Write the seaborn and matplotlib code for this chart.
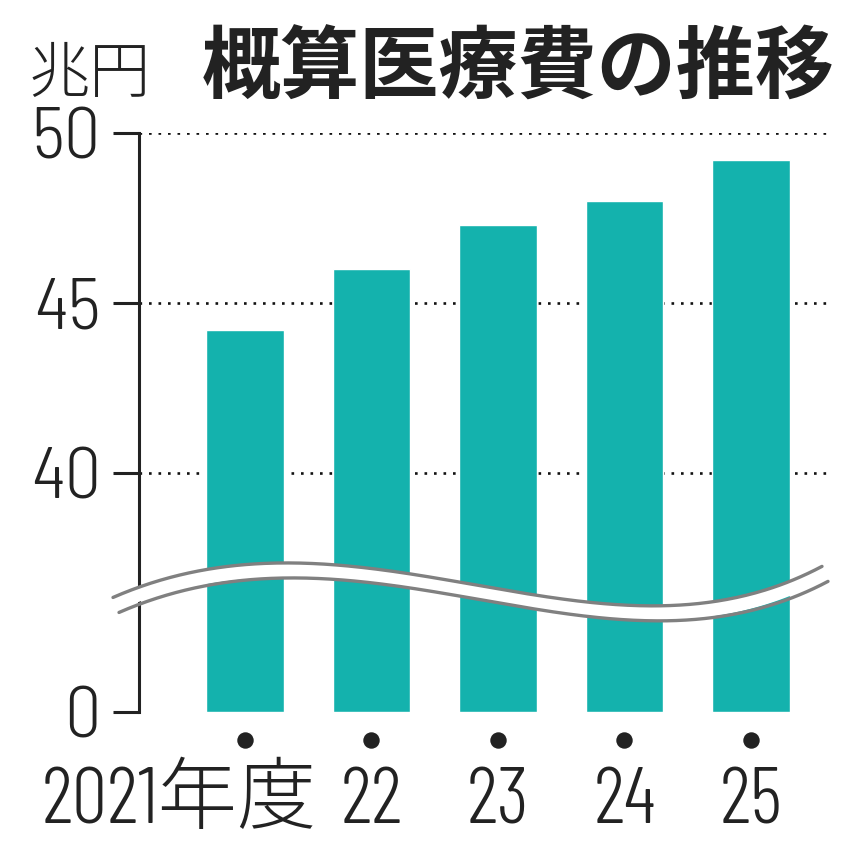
import numpy as np
import pandas as pd
import matplotlib
matplotlib.use('Agg')
import matplotlib.pyplot as plt
import matplotlib.transforms as mtransforms
import seaborn as sns

# Data
years = ['2021', '22', '23', '24', '25']
year_labels = ['2021年度', '22', '23', '24', '25']
cost = [44.2, 46.0, 47.3, 48.0, 49.2]   # 兆円
yticks = [0, 40, 45, 50]

df = pd.DataFrame({'year': years, 'cost': cost})

sns.set_theme(style='white')
X_FONT = ['Barlow Condensed', 'Liberation Sans Narrow', 'Noto Sans CJK JP', 'DejaVu Sans']
Y_FONT = ['Barlow Semi Condensed', 'Barlow Condensed', 'Liberation Sans Narrow', 'DejaVu Sans']
plt.rcParams['font.family'] = X_FONT

# broken axis: 0-40 squeezed
BREAK = 40.0
K = 7.03 / 40.0

def fwd(v):
    v = np.asarray(v, dtype=float)
    return np.where(v >= BREAK, v, BREAK - (BREAK - v) * K)

def inv(u):
    u = np.asarray(u, dtype=float)
    return np.where(u >= BREAK, u, BREAK - (BREAK - u) / K)

fig = plt.figure(figsize=(8.6, 8.6), dpi=100)
ax = fig.add_axes([139 / 860, 1 - 712 / 860, (828 - 139) / 860, (712 - 133) / 860])

ax.set_yscale('function', functions=(fwd, inv))
sns.barplot(data=df, x='year', y='cost', color='#14b2ad', saturation=1,
            width=0.61, ax=ax, zorder=3)
ax.set_ylim(0, 50)
ax.set_xlim(-0.838, 4.609)

# gridlines
for v in [40, 45, 50]:
    ax.axhline(v, color='#111111', lw=1.9, ls=(0, (1, 2.6)), zorder=1)

# spines / ticks
for s in ['top', 'right', 'bottom']:
    ax.spines[s].set_visible(False)
ax.spines['left'].set_linewidth(2.2)
ax.spines['left'].set_color('#222222')
ax.set_yticks(yticks)
ax.set_yticklabels([str(t) for t in yticks], family=Y_FONT, fontweight=300)
ax.yaxis.set_minor_locator(matplotlib.ticker.NullLocator())
ax.tick_params(axis='y', direction='out', length=18.5, width=2.2, color='#222222',
               pad=9, labelsize=52, labelcolor='#222222', left=True)
ax.set_xticks([])
ax.set_xlabel('')
ax.set_ylabel('')

# x labels and dots
trans = mtransforms.blended_transform_factory(ax.transData, fig.transFigure)
pos = np.arange(len(years))
ax.scatter(pos, [1 - 740 / 860] * len(pos), s=140, color='#222222', lw=0,
           transform=trans, clip_on=False, zorder=5)
label_x = [-0.52, 1, 2, 3, 4]
for x, lab in zip(label_x, year_labels):
    ax.text(x, 1 - 823 / 860, lab, transform=trans, ha='center', va='baseline',
            fontsize=57, fontweight=300, color='#222222')

# wave break band
wx = np.array([113, 200, 290, 450, 630, 740, 822])
wy = np.array([597, 572, 562, 580, 607, 595, 567])
coef = np.polyfit(wx, wy, 4)
xs = np.linspace(113, 822, 300)
top = np.polyval(coef, xs)
bot = top + 14
fx = xs / 860
ax_fig = fig.transFigure
ax.fill_between(fx, 1 - top / 860, 1 - bot / 860, color='white', transform=ax_fig,
                clip_on=False, zorder=6, lw=0)
ax.plot(fx, 1 - top / 860, color='#808080', lw=2.4, transform=ax_fig, clip_on=False, zorder=7)
ax.plot(fx + 6 / 860, 1 - (bot + 1) / 860, color='#808080', lw=2.4, transform=ax_fig,
        clip_on=False, zorder=7)

# titles
fig.text(29 / 860, 1 - 75 / 860, '兆円', fontsize=44, family=['Noto Sans CJK JP'],
         fontweight=300, ha='left', va='center', color='#222222')
fig.text(202 / 860, 1 - 69 / 860, '概算医療費の推移', fontsize=57, fontweight='bold',
         family=['Noto Sans CJK JP'], ha='left', va='center', color='#222222')

fig.savefig('out.png', dpi=100)
